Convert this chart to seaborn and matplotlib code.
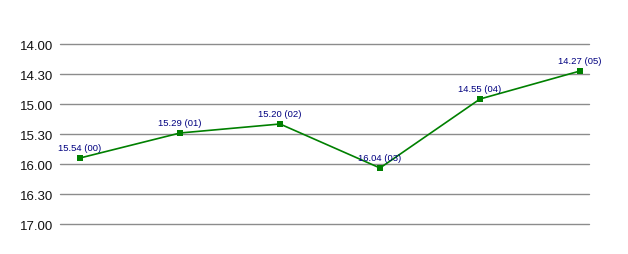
import matplotlib
matplotlib.use("Agg")
import matplotlib.pyplot as plt
from matplotlib import font_manager
import seaborn as sns
import pandas as pd

categories = ["00", "01", "02", "03", "04", "05"]
times = ["15.54", "15.29", "15.20", "16.04", "14.55", "14.27"]
tick_labels = ["14.00", "14.30", "15.00", "15.30", "16.00", "16.30", "17.00"]

def to_minutes(s):
    m, sec = s.split(".")
    return int(m) + int(sec) / 60.0

df = pd.DataFrame({"x": range(len(categories)), "y": [to_minutes(t) for t in times],
                   "cat": categories, "t": times})

sns.set_style("white")
names = {f.name for f in font_manager.fontManager.ttflist}
narrow = "Liberation Sans Narrow" if "Liberation Sans Narrow" in names else "Liberation Sans"
plt.rcParams["font.family"] = [narrow, "DejaVu Sans"]

fig = plt.figure(figsize=(6.28, 2.55), dpi=100)
ax = fig.add_axes([60/628, 30/255, 529/628, 180/255])

tick_vals = [to_minutes(t) for t in tick_labels]
for v in tick_vals:
    ax.axhline(v, color="#8c8c8c", lw=1, zorder=1, clip_on=False)

sns.lineplot(data=df, x="x", y="y", ax=ax, color="#008000", lw=1.2,
             marker="s", markersize=5, markeredgewidth=0, zorder=3)

for _, r in df.iterrows():
    ax.annotate(f"{r['t']} ({r['cat']})", (r["x"], r["y"]), xytext=(0, 4),
                textcoords="offset points", ha="center", va="bottom",
                fontsize=6.8, color="#000080", family=["Liberation Sans", "DejaVu Sans"],
                annotation_clip=False, zorder=4)

ax.set_xlim(-0.2, 5.09)
ax.set_ylim(tick_vals[-1], tick_vals[0])
ax.set_yticks(tick_vals)
ax.set_yticklabels(tick_labels, fontsize=9.5, color="#111111")
ax.tick_params(axis="y", length=0, pad=5)
ax.set_xticks([])
ax.set_xlabel("")
ax.set_ylabel("")
for s in ax.spines.values():
    s.set_visible(False)

fig.savefig("out.png", dpi=100, facecolor="white")
